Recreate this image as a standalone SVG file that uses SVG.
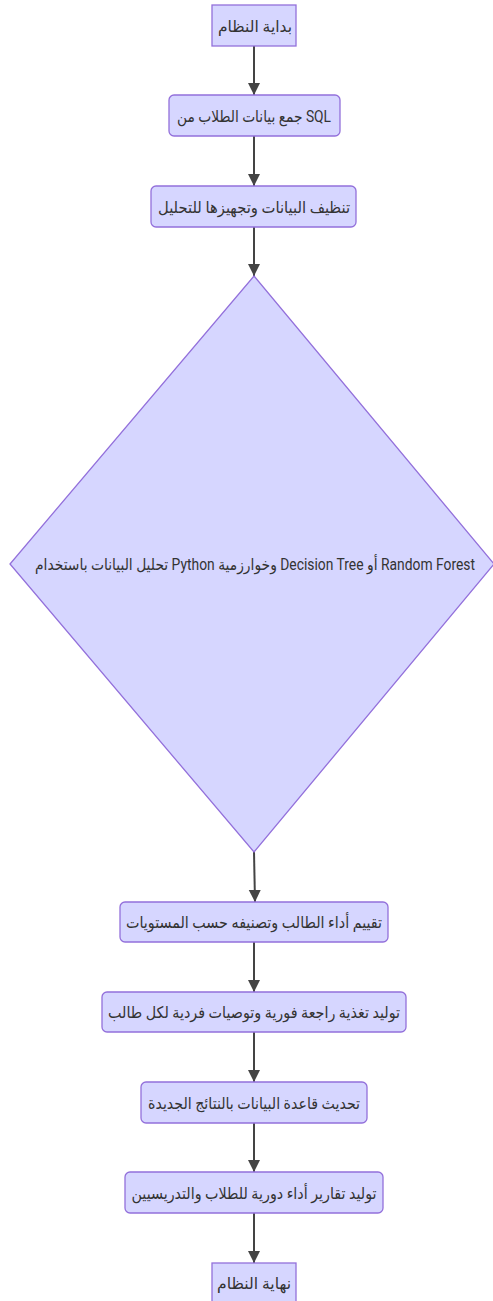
<svg xmlns="http://www.w3.org/2000/svg" width="493" height="1301" viewBox="0 0 493 1301">
  <style>
    .node rect, .node polygon { fill: #d6d6ff; stroke: #9370db; stroke-width: 1.3; }
    .node text { font-family: Roboto, "DejaVu Sans", sans-serif; font-size: 16px; fill: #333; text-anchor: middle; dominant-baseline: central; }
    .edge { stroke: #444; stroke-width: 2; fill: none; marker-end: url(#arrow); }
  </style>
  <defs>
    <marker id="arrow" viewBox="0 0 10 10" refX="10" refY="5" markerUnits="userSpaceOnUse" markerWidth="12" markerHeight="13" orient="auto">
      <path d="M0,0 L10,5 L0,10 z" fill="#444"/>
    </marker>
  </defs>
  <rect width="493" height="1301" fill="#ffffff"/>

  <!-- connectors -->
  <g id="edges">
    <line class="edge" x1="254" y1="46" x2="254" y2="95"/>
    <line class="edge" x1="254" y1="136" x2="254" y2="186"/>
    <line class="edge" x1="254" y1="227" x2="254" y2="276"/>
    <line class="edge" x1="254" y1="852" x2="255" y2="902"/>
    <line class="edge" x1="254" y1="942" x2="254" y2="992"/>
    <line class="edge" x1="254" y1="1032" x2="254" y2="1082"/>
    <line class="edge" x1="254" y1="1123" x2="254" y2="1172"/>
    <line class="edge" x1="254" y1="1213" x2="254" y2="1263"/>
  </g>

  <!-- nodes -->
  <g id="start" class="node">
    <rect x="212" y="5" width="84" height="41"/>
    <text x="255" y="26" textLength="74" lengthAdjust="spacingAndGlyphs">بداية النظام</text>
  </g>
  <g id="collect" class="node">
    <rect x="169" y="95" width="171" height="41" rx="5"/>
    <text x="254" y="116" textLength="154" lengthAdjust="spacingAndGlyphs">جمع بيانات الطلاب من SQL</text>
  </g>
  <g id="clean" class="node">
    <rect x="151" y="186" width="205" height="41" rx="5"/>
    <text x="254" y="207" textLength="192" lengthAdjust="spacingAndGlyphs">تنظيف البيانات وتجهيزها للتحليل</text>
  </g>
  <g id="analyze" class="node">
    <polygon points="254,276 494,564 254,852 10,564"/>
    <text x="255" y="564" textLength="440" lengthAdjust="spacingAndGlyphs">تحليل البيانات باستخدام Python وخوارزمية Decision Tree أو Random Forest</text>
  </g>
  <g id="evaluate" class="node">
    <rect x="120" y="902" width="268" height="40" rx="5"/>
    <text x="254" y="922" textLength="256" lengthAdjust="spacingAndGlyphs">تقييم أداء الطالب وتصنيفه حسب المستويات</text>
  </g>
  <g id="feedback" class="node">
    <rect x="102" y="992" width="304" height="40" rx="5"/>
    <text x="254" y="1012" textLength="292" lengthAdjust="spacingAndGlyphs">توليد تغذية راجعة فورية وتوصيات فردية لكل طالب</text>
  </g>
  <g id="update" class="node">
    <rect x="141" y="1082" width="226" height="41" rx="5"/>
    <text x="254" y="1103" textLength="212" lengthAdjust="spacingAndGlyphs">تحديث قاعدة البيانات بالنتائج الجديدة</text>
  </g>
  <g id="reports" class="node">
    <rect x="125" y="1172" width="258" height="41" rx="5"/>
    <text x="254" y="1193" textLength="245" lengthAdjust="spacingAndGlyphs">توليد تقارير أداء دورية للطلاب والتدريسيين</text>
  </g>
  <g id="end" class="node">
    <rect x="212" y="1263" width="84" height="40"/>
    <text x="254" y="1283" textLength="74" lengthAdjust="spacingAndGlyphs">نهاية النظام</text>
  </g>
</svg>
